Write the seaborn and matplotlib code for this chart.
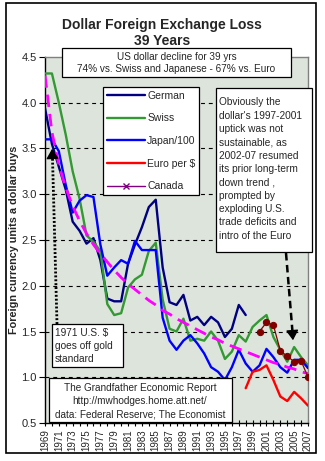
import numpy as np
import pandas as pd
import matplotlib
matplotlib.use("Agg")
import matplotlib.pyplot as plt
import seaborn as sns
from matplotlib.patches import Rectangle
from matplotlib.lines import Line2D

# ---------------- data ----------------
years = list(range(1969, 2008))

german_years = list(range(1969, 1999))
german = [3.94, 3.55, 3.30, 3.05, 2.70, 2.60, 2.46, 2.52, 2.28, 1.86,
          1.83, 1.83, 2.24, 2.45, 2.64, 2.86, 2.94, 2.20, 1.82, 1.79,
          1.90, 1.62, 1.66, 1.57, 1.66, 1.60, 1.44, 1.53, 1.79, 1.68]

swiss_years = years
swiss = [4.32, 4.32, 4.00, 3.65, 3.25, 2.95, 2.55, 2.48, 2.38, 1.80,
         1.68, 1.70, 1.98, 2.07, 2.12, 2.38, 2.47, 1.85, 1.53, 1.50,
         1.64, 1.40, 1.42, 1.40, 1.50, 1.40, 1.20, 1.28, 1.46, 1.39,
         1.55, 1.62, 1.68, 1.44, 1.30, 1.17, 1.33, 1.22, 1.13]

japan_years = years
japan_100 = [3.60, 3.60, 3.47, 3.10, 2.80, 2.93, 2.99, 2.97, 2.45, 2.11,
             2.20, 2.28, 2.24, 2.49, 2.39, 2.39, 2.39, 1.65, 1.40, 1.30,
             1.40, 1.46, 1.37, 1.26, 1.11, 1.06, 0.97, 1.11, 1.30, 1.15,
             1.06, 1.13, 1.31, 1.22, 1.11, 1.05, 1.19, 1.19, 1.10]

euro_years = list(range(1998, 2008))
euro = [0.88, 1.06, 1.08, 1.13, 0.97, 0.79, 0.74, 0.84, 0.77, 0.69]

canada_years = list(range(2000, 2008))
canada = [1.50, 1.60, 1.57, 1.29, 1.23, 1.17, 1.18, 1.00]

trend_years = years
trend = [4.30, 3.68, 3.32, 3.07, 2.87, 2.71, 2.57, 2.45, 2.35, 2.26,
         2.17, 2.09, 2.02, 1.96, 1.90, 1.84, 1.79, 1.73, 1.69, 1.64,
         1.60, 1.56, 1.52, 1.48, 1.44, 1.41, 1.37, 1.34, 1.31, 1.28,
         1.25, 1.22, 1.19, 1.16, 1.14, 1.11, 1.09, 1.06, 1.04]

x_tick_labels = [str(y) for y in range(1969, 2008, 2)]
y_ticks = [0.5, 1.0, 1.5, 2.0, 2.5, 3.0, 3.5, 4.0, 4.5]
series_names = ["German", "Swiss", "Japan/100", "Euro per $", "Canada"]

# ---------------- style ----------------
sns.set_theme(style="ticks")
FONT = ["Liberation Sans", "DejaVu Sans"]
plt.rcParams["font.family"] = FONT

W, H = 325, 461
fig = plt.figure(figsize=(W / 100, H / 100), dpi=100)
fig.patch.set_facecolor("white")

def fx(px):
    return px / W

def fy(py):
    return 1 - py / H

L, R, T, B = 45, 308, 57, 423
ax = fig.add_axes([fx(L), fy(B), (R - L) / W, (B - T) / H])
ax.set_facecolor("#dde4dc")

lw = 1.7
sns.lineplot(x=german_years, y=german, ax=ax, color="#000080", lw=lw, zorder=3)
sns.lineplot(x=swiss_years, y=swiss, ax=ax, color="#339933", lw=lw, zorder=3)
sns.lineplot(x=japan_years, y=japan_100, ax=ax, color="#0000ff", lw=lw, zorder=3)
sns.lineplot(x=euro_years, y=euro, ax=ax, color="#ff0000", lw=lw, zorder=3)
sns.lineplot(x=trend_years, y=trend, ax=ax, color="#ff00ff", lw=2.0,
             dashes=False, zorder=4).lines[-1].set_dashes((4.5, 2.5))
sns.lineplot(x=canada_years, y=canada, ax=ax, color="#800000", lw=0.9,
             marker="o", markersize=4.5, markeredgecolor="#800000", zorder=5)

ax.set_xlim(1969, 2007)
ax.set_ylim(0.5, 4.5)
ax.set_xticks(list(range(1969, 2008, 2)))
ax.set_xticklabels(x_tick_labels, rotation=90, fontsize=7)
ax.set_xticks(years, minor=True)
ax.set_yticks(y_ticks)
ax.set_yticklabels([f"{v:.1f}" for v in y_ticks], fontsize=8)
ax.tick_params(axis="x", which="both", direction="inout", length=5, width=0.8,
               pad=2, color="black")
ax.tick_params(axis="y", direction="out", length=4, width=0.8, pad=2, color="black")

for yv in y_ticks[1:-1]:
    ax.axhline(yv, color="black", lw=0.8, ls=(0, (3.5, 3.5)), zorder=1)

for s in ["left", "bottom"]:
    ax.spines[s].set_color("black")
    ax.spines[s].set_linewidth(1.0)
for s in ["top", "right"]:
    ax.spines[s].set_color("#808080")
    ax.spines[s].set_linewidth(1.0)

ax.set_xlabel("")
ax.set_ylabel("Foreign currency units a dollar buys", fontsize=7.8,
              fontweight="bold")
ax.yaxis.set_label_coords(-0.097, 0.5)

# legend
handles = [
    Line2D([], [], color="#000080", lw=lw),
    Line2D([], [], color="#339933", lw=lw),
    Line2D([], [], color="#0000ff", lw=lw),
    Line2D([], [], color="#ff0000", lw=lw),
    Line2D([], [], color="#800080", lw=1.0, marker="x", markersize=4),
]
leg = ax.legend(handles, series_names, loc="upper left",
                bbox_to_anchor=(fx(103), fy(87)), bbox_transform=fig.transFigure,
                borderaxespad=0, fontsize=7.5, handlelength=3.7, handletextpad=0.2,
                labelspacing=1.22, borderpad=0.35, frameon=True, fancybox=False)
leg.get_frame().set_edgecolor("black")
leg.get_frame().set_linewidth(0.9)
leg.get_frame().set_facecolor("white")
leg.get_frame().set_alpha(1)
leg.set_zorder(10)

# ---------------- boxes and text ----------------
def box(x0, y0, x1, y1):
    r = Rectangle((fx(x0), fy(y1)), (x1 - x0) / W, (y1 - y0) / H,
                  transform=fig.transFigure, facecolor="white",
                  edgecolor="black", lw=0.9, zorder=20)
    fig.add_artist(r)

# outer border
fig.add_artist(Rectangle((fx(6), fy(453)), (316 - 6) / W, (453 - 3) / H,
                         transform=fig.transFigure, facecolor="none",
                         edgecolor="black", lw=1.2, zorder=30))

fig.text(fx(162), fy(33), "Dollar Foreign Exchange Loss\n39 Years", ha="center",
         va="center", fontsize=10, fontweight="bold", linespacing=1.15)

box(62, 48, 291, 77)
fig.text(fx(176.5), fy(63), "US dollar decline for 39 yrs\n74% vs. Swiss and Japanese - 67% vs. Euro",
         ha="center", va="center", fontsize=7.2, linespacing=1.35, zorder=21)

box(216, 88, 312, 252)
fig.text(fx(219), fy(169),
         "Obviously the\ndollar's 1997-2001\nuptick was not\nsustainable, as\n"
         "2002-07 resumed\nits prior long-term\ndown trend ,\nprompted by\n"
         "exploding U.S.\ntrade deficits and\nintro of the Euro",
         ha="left", va="center", fontsize=7.3, linespacing=1.42, zorder=21)

box(52, 324, 123, 367)
fig.text(fx(55), fy(346), "1971 U.S. $\ngoes off gold\nstandard", ha="left",
         va="center", fontsize=7.3, linespacing=1.42, zorder=21)

box(49, 378, 232, 422)
fig.text(fx(140), fy(401),
         "The Grandfather Economic Report\nhttp://mwhodges.home.att.net/\ndata: Federal Reserve; The Economist",
         ha="center", va="center", fontsize=7.2, linespacing=1.42, zorder=21)

# arrows
fig.add_artist(Line2D([fx(57), fx(52.5)], [fy(324), fy(158)], transform=fig.transFigure,
                      color="black", lw=2.0, ls=(0, (0.7, 0.7)), zorder=22))
fig.add_artist(matplotlib.patches.FancyArrowPatch(
    (fx(52.6), fy(160)), (fx(52), fy(146)), transform=fig.transFigure,
    arrowstyle="-|>,head_length=4,head_width=2.5", color="black", lw=1.0,
    mutation_scale=1.5, zorder=22))

fig.add_artist(Line2D([fx(286), fx(292.5)], [fy(253), fy(332)], transform=fig.transFigure,
                      color="black", lw=1.8, ls=(0, (3, 1.8)), zorder=22))
fig.add_artist(matplotlib.patches.FancyArrowPatch(
    (fx(292.2), fy(330)), (fx(293.2), fy(343)), transform=fig.transFigure,
    arrowstyle="-|>,head_length=4,head_width=2.5", color="black", lw=1.0,
    mutation_scale=1.5, zorder=22))

fig.savefig("out.png", dpi=100)
